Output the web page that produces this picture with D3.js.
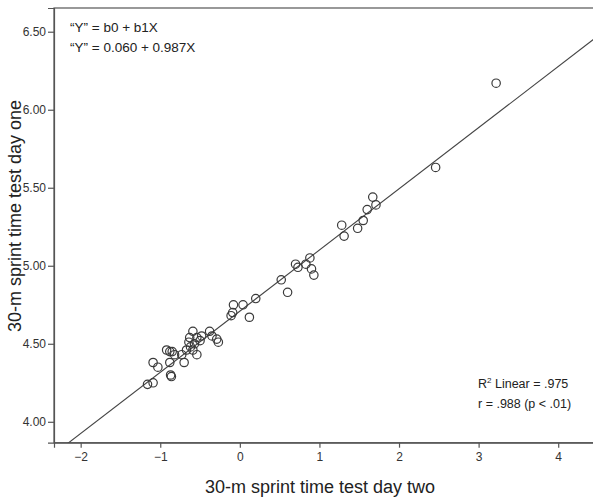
<!DOCTYPE html>
<html><head><meta charset="utf-8">
<script src="https://cdn.jsdelivr.net/npm/d3@7"></script>
<style>body{margin:0;background:#fff}text{font-family:"Liberation Sans",Arial,sans-serif}</style>
</head><body>
<svg id="chart" width="593" height="499"></svg>
<script>
// data: x = sprint time day two (standardized), y = sprint time day one
const dayTwo = [3.22,2.46,1.67,1.71,1.60,1.55,1.48,1.28,1.31,
  0.88,0.70,0.73,0.83,0.90,0.93,0.52,0.60,0.20,0.04,-0.08,-0.09,-0.11,0.12,
  -1.16,-1.09,-0.87,-0.86,-1.09,-1.03,-0.88,-0.70,-0.92,-0.88,-0.85,-0.82,-0.73,-0.67,-0.59,-0.54,
  -0.62,-0.64,-0.57,-0.50,-0.63,-0.54,-0.59,-0.48,-0.38,-0.35,-0.29,-0.27];
const dayOne = [6.17,5.63,5.44,5.39,5.36,5.29,5.24,5.26,5.19,
  5.05,5.01,4.99,5.01,4.98,4.94,4.91,4.83,4.79,4.75,4.75,4.70,4.68,4.67,
  4.24,4.25,4.30,4.29,4.38,4.35,4.38,4.38,4.46,4.45,4.45,4.43,4.43,4.46,4.46,4.43,
  4.48,4.51,4.50,4.52,4.54,4.54,4.58,4.55,4.58,4.55,4.53,4.51];
const fitLine = [4.709, 0.392]; // intercept, slope in plotted units
const xTicks = [-2,-1,0,1,2,3,4];
const yTicks = [4.0,4.5,5.0,5.5,6.0,6.5];
const eqLines = ["\u201CY\u201D = b0 + b1X", "\u201CY\u201D = 0.060 + 0.987X"];
const xTitle = "30-m sprint time test day two";
const yTitle = "30-m sprint time test day one";

const svg = d3.select("#chart");
const L = 54, T = 8, B = 442.7, R = 598;
const x = d3.scaleLinear().domain([-2.335, 4.5]).range([L, R]);
const y = d3.scaleLinear().domain([3.866, 6.652]).range([B, T]);

svg.append("defs").append("clipPath").attr("id","clip")
  .append("rect").attr("x",L).attr("y",T).attr("width",R-L).attr("height",B-T);

// frame
svg.append("rect").attr("x",L).attr("y",T).attr("width",R-L).attr("height",B-T)
  .attr("fill","none").attr("stroke","#555").attr("stroke-width",1.2);

// axes
const xa = svg.append("g").attr("transform",`translate(0,${B})`)
  .call(d3.axisBottom(x).tickValues(xTicks).tickFormat(d3.format("d")).tickSizeOuter(0).tickSize(5).tickPadding(5));
const ya = svg.append("g").attr("transform",`translate(${L},0)`)
  .call(d3.axisLeft(y).tickValues(yTicks).tickFormat(d3.format(".2f")).tickSizeOuter(0).tickSize(6).tickPadding(2));
[xa,ya].forEach(g=>{
  g.select(".domain").attr("stroke","#555").attr("stroke-width",1.2);
  g.selectAll(".tick line").attr("stroke","#555").attr("stroke-width",1.2);
  g.selectAll(".tick text").attr("fill","#333").style("font-size","12px").style("font-family","Liberation Sans, Arial, sans-serif");
});

// fit line
const [b0,b1] = fitLine;
const xd = x.domain();
svg.append("line").attr("clip-path","url(#clip)")
  .attr("x1",x(xd[0])).attr("y1",y(b0+b1*xd[0]))
  .attr("x2",x(xd[1])).attr("y2",y(b0+b1*xd[1]))
  .attr("stroke","#444").attr("stroke-width",1.1);

// points
svg.append("g").selectAll("circle").data(dayTwo.map((d,i)=>[d,dayOne[i]])).join("circle")
  .attr("cx",d=>x(d[0])).attr("cy",d=>y(d[1])).attr("r",4.2)
  .attr("fill","none").attr("stroke","#3a3a3a").attr("stroke-width",1.2);

// equation text
svg.append("g").selectAll("text").data(eqLines).join("text")
  .attr("x",70).attr("y",(d,i)=>32+i*20).attr("fill","#222").style("font-size","13.5px").text(d=>d);

// R2 text
const rt = svg.append("text").attr("x",478).attr("y",388).attr("fill","#222").style("font-size","12.5px");
rt.append("tspan").text("R");
rt.append("tspan").attr("dy",-5).style("font-size","8px").text("2");
rt.append("tspan").attr("dy",5).text(" Linear = .975");
svg.append("text").attr("x",478).attr("y",408).attr("fill","#222").style("font-size","12.5px").text("r = .988 (p < .01)");

// axis titles
svg.append("text").attr("x",320).attr("y",493).attr("text-anchor","middle").attr("fill","#222")
  .style("font-size","18px").text(xTitle);
svg.append("text").attr("transform","translate(21,216) rotate(-90)").attr("text-anchor","middle").attr("fill","#222")
  .style("font-size","18px").text(yTitle);
</script>
</body></html>
